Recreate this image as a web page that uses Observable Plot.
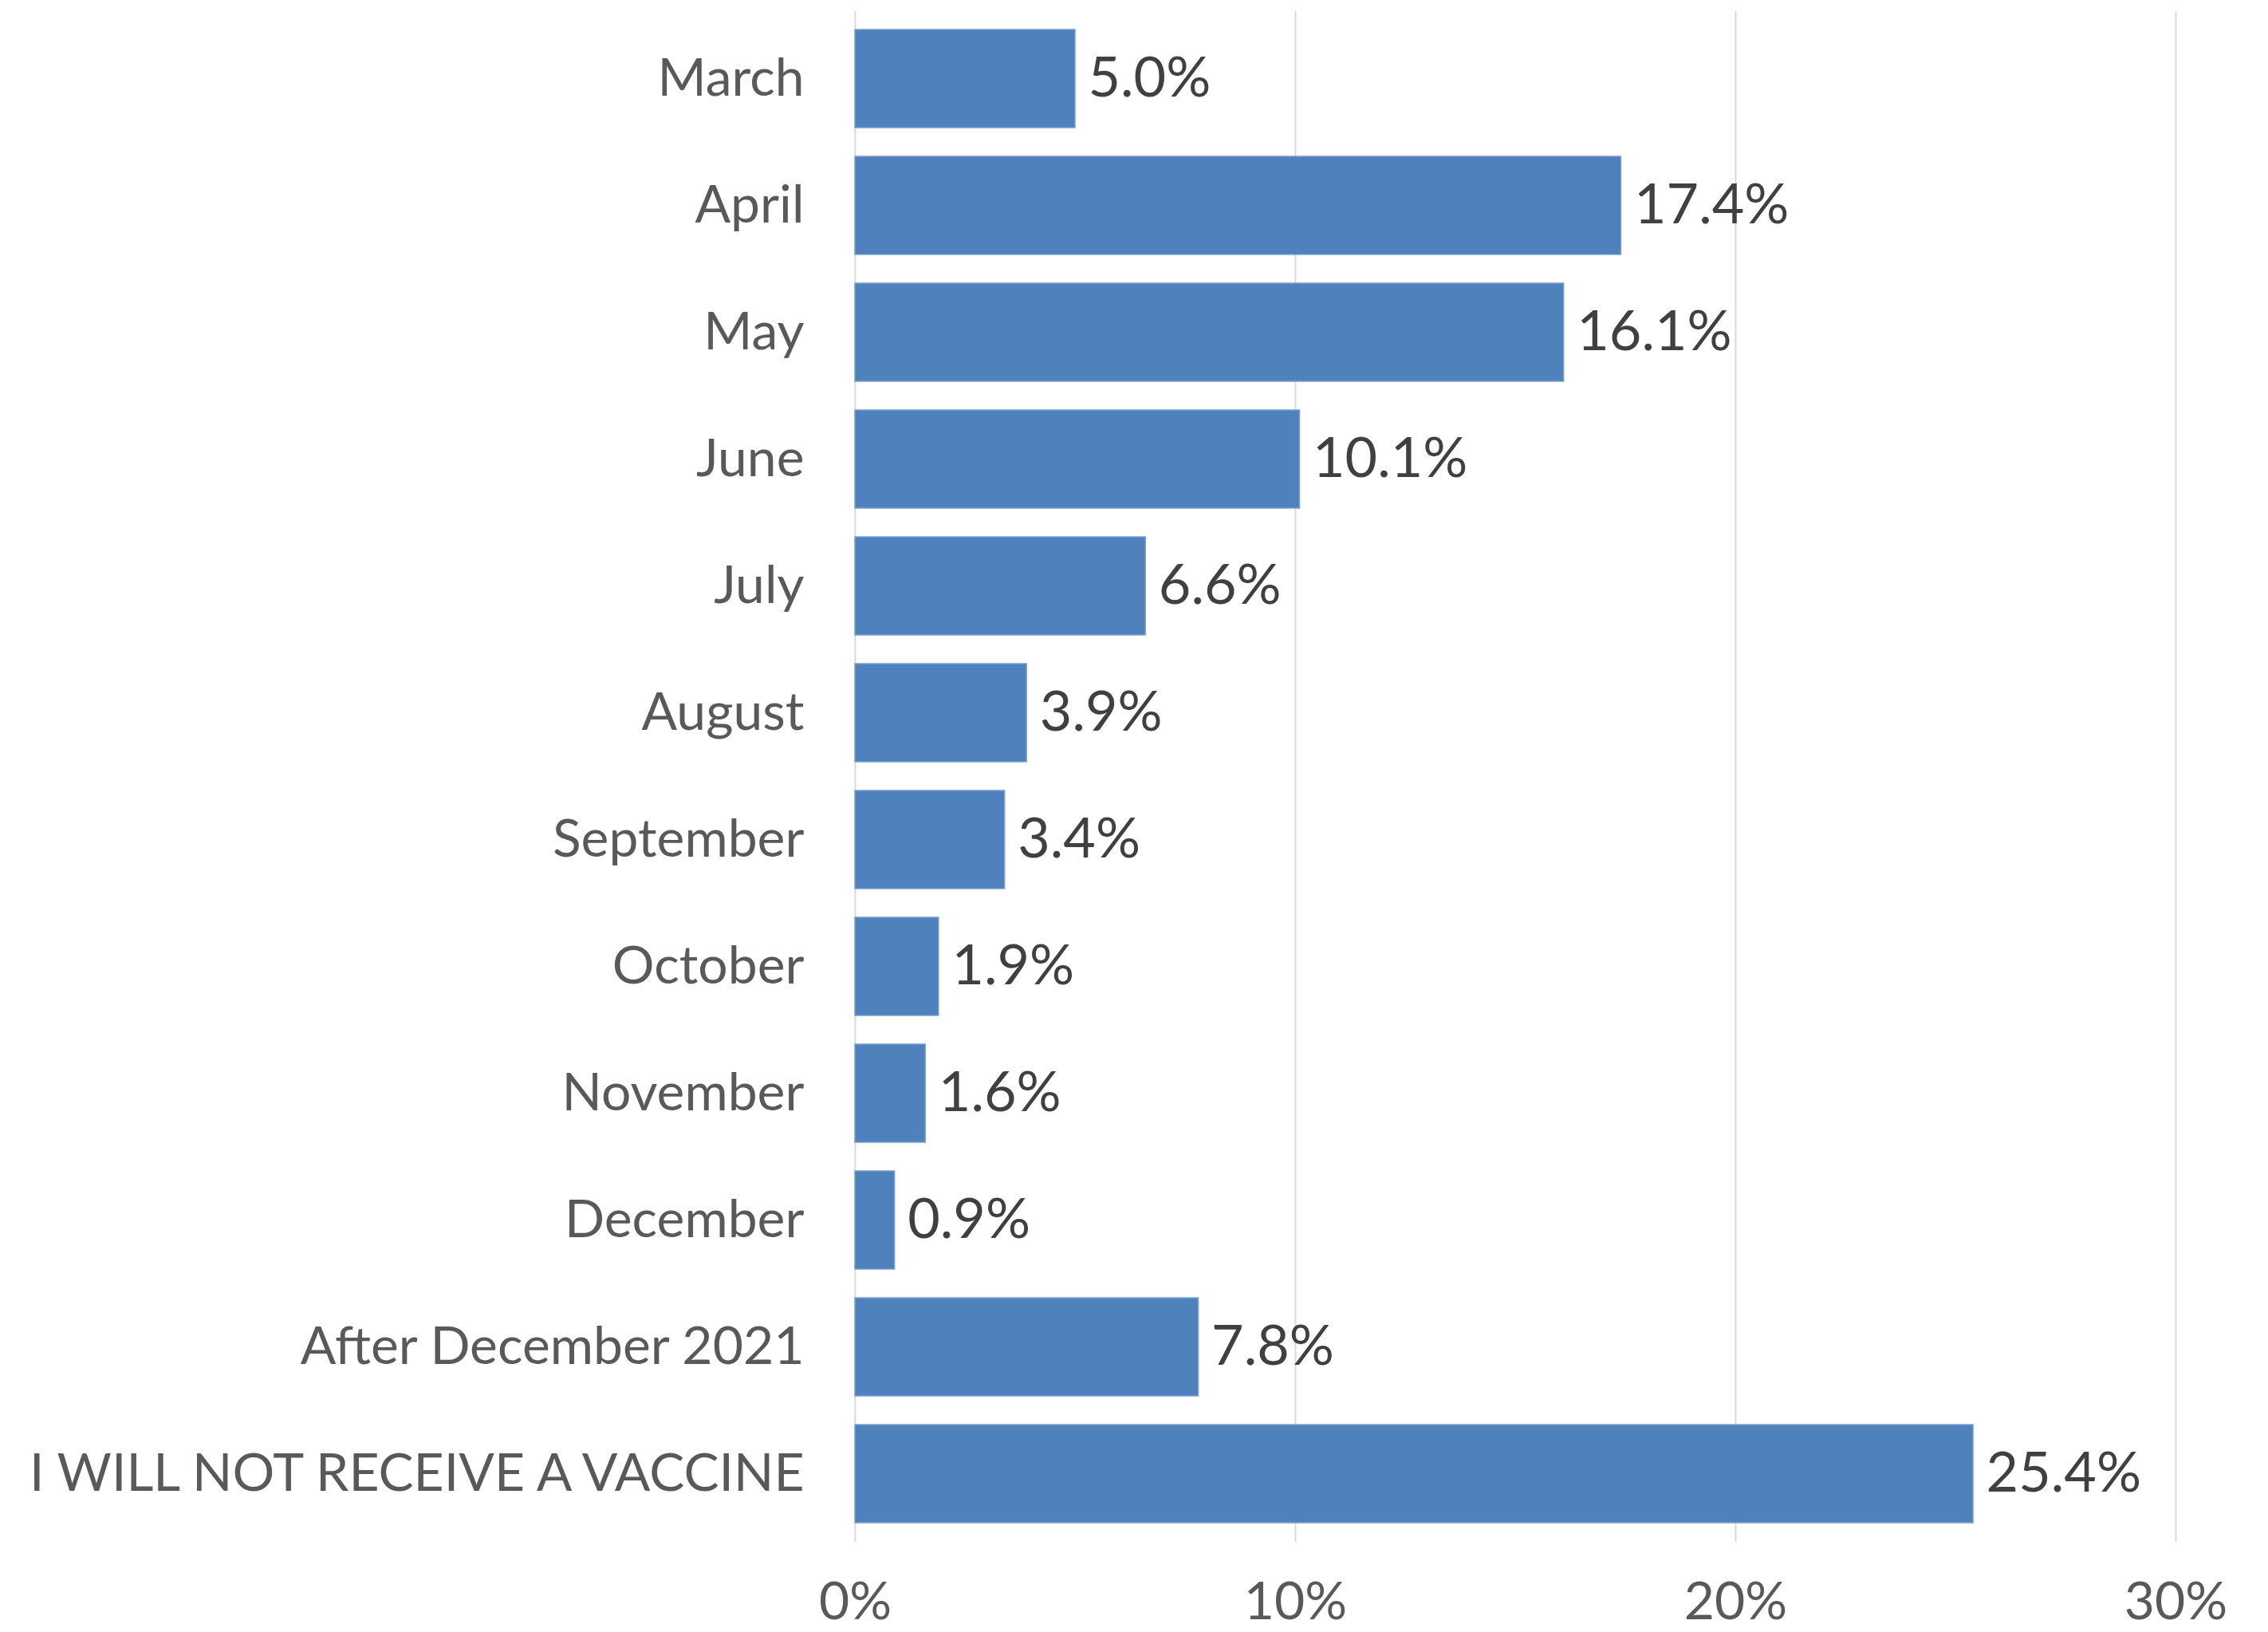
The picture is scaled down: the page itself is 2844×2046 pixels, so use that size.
<!DOCTYPE html>
<html>
<head>
<meta charset="utf-8">
<script src="https://cdn.jsdelivr.net/npm/d3@7"></script>
<script src="https://cdn.jsdelivr.net/npm/@observablehq/plot@0.6"></script>
<style>
  html, body { margin: 0; padding: 0; background: #ffffff; }
  #chart { width: 2844px; height: 2046px; }
</style>
</head>
<body>
<div id="chart"></div>
<script>
const categories = ["March", "April", "May", "June", "July", "August", "September", "October", "November", "December", "After December 2021", "I WILL NOT RECEIVE A VACCINE"];
const values = [5.0, 17.4, 16.1, 10.1, 6.6, 3.9, 3.4, 1.9, 1.6, 0.9, 7.8, 25.4];
const xTicks = [0, 10, 20, 30];

const data = categories.map((c, i) => ({category: c, value: values[i]}));

const chart = Plot.plot({
  width: 2844,
  height: 2046,
  marginLeft: 1072,
  marginRight: 116,
  marginTop: 14,
  marginBottom: 113,
  style: {fontFamily: "Lato, 'Open Sans', sans-serif", background: "#ffffff"},
  x: {domain: [0, 30], ticks: xTicks, tickFormat: d => d + "%", label: null},
  y: {domain: categories, paddingInner: 0.225, paddingOuter: 0.1125, label: null},
  marks: [
    Plot.gridX(xTicks, {stroke: "#d9d9d9", strokeOpacity: 1, strokeWidth: 2}),
    Plot.barX(data, {x: "value", y: "category", fill: "#4f81bd", stroke: "#7aa0cf", strokeWidth: 1.5}),
    Plot.text(data, {x: "value", y: "category", text: d => d.value.toFixed(1) + "%", textAnchor: "start", dx: 16, fontSize: 70, fill: "#404040"}),
    Plot.axisX({ticks: xTicks, tickFormat: d => d + "%", tickSize: 0, tickPadding: 50, fontSize: 66, color: "#595959", label: null}),
    Plot.axisY({tickSize: 0, tickPadding: 64, fontSize: 66, color: "#595959", label: null})
  ]
});
document.getElementById("chart").appendChild(chart);
</script>
</body>
</html>
